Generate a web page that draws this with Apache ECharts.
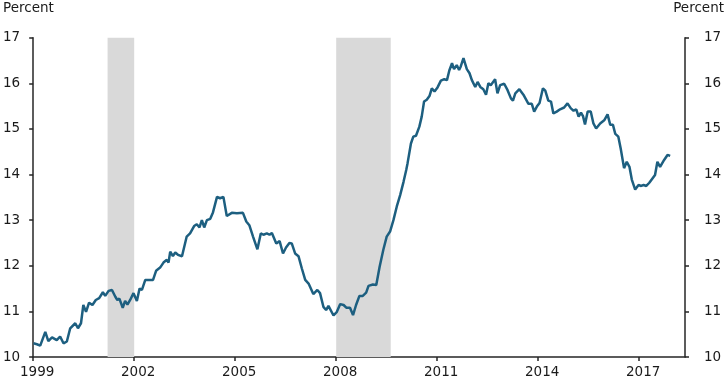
<!DOCTYPE html>
<html>
<head>
<meta charset="utf-8">
<script src="https://cdn.jsdelivr.net/npm/echarts@6/dist/echarts.min.js"></script>
<style>
html,body{margin:0;padding:0;background:#fff;}
#chart{width:725px;height:381px;}
</style>
</head>
<body>
<div id="chart"></div>
<script>
// Decimal years and percent values
const years = [1999.01,1999.11,1999.21,1999.36,1999.45,1999.56,1999.70,1999.80,1999.90,2000.00,2000.10,2000.25,2000.33,2000.42,2000.49,2000.57,2000.66,2000.76,2000.86,2000.96,2001.07,2001.14,2001.24,2001.34,2001.44,2001.50,2001.56,2001.66,2001.73,2001.80,2001.88,2001.98,2002.08,2002.16,2002.23,2002.33,2002.42,2002.56,2002.65,2002.77,2002.87,2002.97,2003.02,2003.07,2003.15,2003.22,2003.30,2003.42,2003.56,2003.66,2003.78,2003.86,2003.94,2004.01,2004.08,2004.16,2004.26,2004.34,2004.46,2004.55,2004.65,2004.75,2004.90,2005.05,2005.23,2005.33,2005.42,2005.53,2005.66,2005.76,2005.84,2005.94,2006.02,2006.09,2006.22,2006.32,2006.42,2006.51,2006.61,2006.68,2006.78,2006.88,2006.98,2007.08,2007.18,2007.32,2007.44,2007.52,2007.62,2007.70,2007.77,2007.92,2008.02,2008.12,2008.22,2008.30,2008.41,2008.50,2008.59,2008.69,2008.79,2008.89,2008.96,2009.09,2009.19,2009.29,2009.40,2009.50,2009.60,2009.70,2009.80,2009.90,2010.00,2010.08,2010.12,2010.22,2010.29,2010.37,2010.47,2010.54,2010.61,2010.69,2010.77,2010.84,2010.92,2011.01,2011.11,2011.21,2011.29,2011.36,2011.44,2011.50,2011.58,2011.65,2011.70,2011.78,2011.88,2011.96,2012.03,2012.13,2012.20,2012.28,2012.37,2012.45,2012.52,2012.59,2012.65,2012.72,2012.79,2012.87,2012.99,2013.09,2013.19,2013.25,2013.32,2013.44,2013.56,2013.71,2013.81,2013.88,2013.96,2014.04,2014.14,2014.21,2014.30,2014.38,2014.45,2014.55,2014.65,2014.77,2014.87,2014.97,2015.05,2015.13,2015.20,2015.27,2015.33,2015.39,2015.47,2015.56,2015.64,2015.72,2015.84,2015.96,2016.06,2016.14,2016.22,2016.29,2016.38,2016.45,2016.55,2016.63,2016.71,2016.78,2016.88,2016.98,2017.06,2017.13,2017.21,2017.30,2017.47,2017.54,2017.62,2017.74,2017.84,2017.92];
const rates = [10.30,10.28,10.25,10.55,10.35,10.43,10.37,10.45,10.30,10.34,10.63,10.74,10.63,10.74,11.14,10.99,11.19,11.14,11.25,11.29,11.42,11.34,11.45,11.47,11.32,11.25,11.28,11.08,11.23,11.15,11.25,11.40,11.23,11.50,11.47,11.69,11.69,11.69,11.89,11.96,12.07,12.13,12.07,12.31,12.21,12.29,12.24,12.21,12.64,12.71,12.87,12.91,12.84,13.00,12.84,13.00,13.03,13.17,13.51,13.48,13.51,13.09,13.16,13.15,13.16,12.97,12.89,12.64,12.36,12.71,12.68,12.71,12.68,12.72,12.49,12.54,12.27,12.40,12.50,12.49,12.27,12.21,11.94,11.69,11.61,11.38,11.47,11.40,11.10,11.03,11.12,10.91,10.99,11.16,11.14,11.08,11.08,10.92,11.14,11.34,11.34,11.41,11.56,11.59,11.58,11.98,12.35,12.64,12.75,13.00,13.30,13.55,13.84,14.10,14.25,14.68,14.83,14.85,15.05,15.27,15.60,15.64,15.72,15.89,15.82,15.91,16.06,16.09,16.07,16.28,16.44,16.31,16.40,16.29,16.37,16.55,16.31,16.22,16.07,15.92,16.03,15.92,15.87,15.75,16.00,15.96,16.02,16.09,15.78,15.96,15.99,15.85,15.67,15.62,15.78,15.87,15.75,15.55,15.55,15.38,15.49,15.57,15.89,15.84,15.62,15.60,15.34,15.38,15.43,15.47,15.56,15.45,15.40,15.43,15.27,15.36,15.28,15.10,15.38,15.38,15.12,15.01,15.12,15.19,15.32,15.09,15.09,14.89,14.83,14.57,14.14,14.28,14.17,13.89,13.67,13.77,13.75,13.77,13.75,13.82,13.99,14.28,14.17,14.32,14.43,14.41];
const recessionStart = [2001.21, 2008.0];
const recessionEnd = [2002.0, 2009.62];
const xTickYears = [1999, 2002, 2005, 2008, 2011, 2014, 2017];
const yTicks = [10, 11, 12, 13, 14, 15, 16, 17];

const seriesData = years.map((y, i) => [y, rates[i]]);
const bands = recessionStart.map((s, i) => [{xAxis: s}, {xAxis: recessionEnd[i]}]);

const FONT = 'DejaVu Sans';
const TXT = '#1a1a1a';
const AX = '#262626';

const chart = echarts.init(document.getElementById('chart'), null, {renderer: 'canvas'});
const yAxisCommon = {
  type: 'value', min: 10, max: 17, interval: 1,
  splitLine: {show: false},
  axisLine: {show: true, lineStyle: {color: AX, width: 1.5}},
  axisTick: {show: true, inside: false, length: 4, lineStyle: {color: AX, width: 1.5}},
  axisLabel: {customValues: yTicks, color: TXT, fontFamily: FONT, fontSize: 13.5}
};
chart.setOption({
  animation: false,
  backgroundColor: '#fff',
  grid: {left: 33, right: 40, top: 37.7, bottom: 24, containLabel: false},
  graphic: [
    {type: 'text', left: 3, top: 1, style: {text: 'Percent', fill: TXT, font: '13.5px "DejaVu Sans"'}},
    {type: 'text', right: 1, top: 1, style: {text: 'Percent', fill: TXT, font: '13.5px "DejaVu Sans"'}}
  ],
  xAxis: {
    type: 'value', min: 1999, max: 2018.36, interval: 3,
    splitLine: {show: false},
    axisLine: {show: true, onZero: false, lineStyle: {color: AX, width: 1.5}},
    axisTick: {show: true, customValues: xTickYears, length: 4, lineStyle: {color: AX, width: 1.5}},
    axisLabel: {customValues: xTickYears, color: TXT, fontFamily: FONT, fontSize: 13.5, margin: 8,
      padding: [0, 0, 0, 8], formatter: v => String(Math.round(v))}
  },
  yAxis: [
    Object.assign({}, yAxisCommon, {position: 'left',
      axisLabel: Object.assign({}, yAxisCommon.axisLabel, {margin: 13})}),
    Object.assign({}, yAxisCommon, {position: 'right',
      axisLabel: Object.assign({}, yAxisCommon.axisLabel, {margin: 19})})
  ],
  series: [{
    type: 'line',
    data: seriesData,
    showSymbol: false,
    symbol: 'none',
    lineStyle: {color: '#1d5f80', width: 2.5},
    z: 3,
    markArea: {
      silent: true,
      itemStyle: {color: '#d9d9d9'},
      data: bands
    }
  }]
});
</script>
</body>
</html>
